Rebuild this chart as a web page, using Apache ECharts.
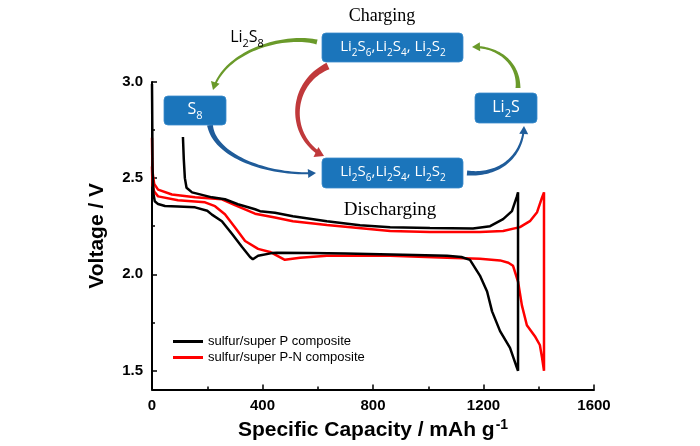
<!DOCTYPE html>
<html><head><meta charset="utf-8">
<script src="https://cdn.jsdelivr.net/npm/echarts@6/dist/echarts.min.js"></script>
<style>html,body{margin:0;padding:0;background:#fff}#c{width:700px;height:446px}</style>
</head><body><div id="c"></div>
<script>
// ---------------- data ----------------
const seriesNames = ['sulfur/super P composite', 'sulfur/super P-N composite'];

// sulfur/super P : discharge then charge (charge listed from its high-capacity end back)
const blackDisX = [0, 0.5, 2, 5, 10, 22, 47, 94, 156, 200, 217, 253, 290, 326, 355, 365, 384, 434, 452, 572, 700, 825, 950, 1068, 1120, 1151, 1187, 1213, 1231, 1260, 1296, 1321, 1325];
const blackDisY = [2.99, 2.90, 2.55, 2.42, 2.38, 2.365, 2.355, 2.352, 2.348, 2.33, 2.31, 2.276, 2.209, 2.142, 2.09, 2.078, 2.096, 2.11, 2.112, 2.111, 2.108, 2.104, 2.10, 2.096, 2.09, 2.075, 1.993, 1.91, 1.807, 1.704, 1.617, 1.513, 1.498];
const blackChgX = [1325, 1321, 1303, 1271, 1224, 1162, 1006, 862, 753, 633, 510, 445, 391, 373, 311, 264, 217, 145, 125, 119, 115, 112];
const blackChgY = [2.426, 2.405, 2.328, 2.287, 2.25, 2.238, 2.24, 2.245, 2.255, 2.276, 2.302, 2.32, 2.328, 2.338, 2.364, 2.39, 2.40, 2.426, 2.45, 2.5, 2.6, 2.714];

// sulfur/super P-N
const redDisX = [0, 1, 3, 8, 22, 94, 192, 228, 264, 300, 337, 384, 427, 481, 536, 633, 862, 1068, 1187, 1260, 1290, 1307, 1325, 1339, 1357, 1386, 1404, 1412, 1419];
const redDisY = [2.56, 2.50, 2.46, 2.43, 2.405, 2.385, 2.374, 2.354, 2.312, 2.245, 2.173, 2.132, 2.116, 2.075, 2.086, 2.096, 2.096, 2.086, 2.08, 2.072, 2.06, 2.044, 1.962, 1.838, 1.735, 1.678, 1.632, 1.565, 1.498];
const redChgX = [1419, 1412, 1394, 1368, 1332, 1271, 1187, 1006, 862, 633, 510, 445, 373, 300, 253, 156, 72, 22, 8, 3, 1, 0];
const redChgY = [2.426, 2.40, 2.323, 2.276, 2.245, 2.225, 2.22, 2.22, 2.225, 2.256, 2.276, 2.295, 2.315, 2.36, 2.39, 2.40, 2.415, 2.44, 2.47, 2.52, 2.6, 2.71];

const xTicks = [0, 400, 800, 1200, 1600];
const yTicks = [1.5, 2.0, 2.5, 3.0];
const yMinorTicks = [1.75, 2.25, 2.75];

function pairs(xs, ys) { return xs.map((x, i) => [x, ys[i]]); }
const blackData = pairs(blackDisX, blackDisY).concat(pairs(blackChgX, blackChgY));
const redData = pairs(redDisX, redDisY).concat(pairs(redChgX, redChgY));

// ---------------- diagram helpers ----------------
function bez(P, t) {
  const u = 1 - t;
  return [u*u*u*P[0][0] + 3*u*u*t*P[1][0] + 3*u*t*t*P[2][0] + t*t*t*P[3][0],
          u*u*u*P[0][1] + 3*u*u*t*P[1][1] + 3*u*t*t*P[2][1] + t*t*t*P[3][1]];
}
function arrow(P, w0, w1, color, headLen, headW) {
  const tip = P[3];
  let dx = P[3][0] - P[2][0], dy = P[3][1] - P[2][1];
  let L = Math.hypot(dx, dy); dx /= L; dy /= L;
  const base = [tip[0] - dx*headLen, tip[1] - dy*headLen];
  let tb = 1;
  for (let t = 1; t >= 0; t -= 0.005) {
    const p = bez(P, t);
    if (Math.hypot(p[0]-tip[0], p[1]-tip[1]) >= headLen*0.9) { tb = t; break; }
  }
  const N = 40, left = [], right = [];
  for (let i = 0; i <= N; i++) {
    const t = tb * i / N;
    const p = bez(P, t);
    const q = bez(P, Math.min(1, t + 0.01));
    const r = bez(P, Math.max(0, t - 0.01));
    let tx = q[0]-r[0], ty = q[1]-r[1]; const tl = Math.hypot(tx, ty) || 1; tx /= tl; ty /= tl;
    const w = (w0 + (w1 - w0) * Math.pow(i / N, 0.6)) / 2;
    left.push([p[0] - ty*w, p[1] + tx*w]);
    right.push([p[0] + ty*w, p[1] - tx*w]);
  }
  const shaft = left.concat(right.reverse());
  const head = [tip, [base[0] - dy*headW/2, base[1] + dx*headW/2], [base[0] + dy*headW/2, base[1] - dx*headW/2]];
  return [
    {type: 'polygon', z: 100, shape: {points: shaft}, style: {fill: color}},
    {type: 'polygon', z: 100, shape: {points: head}, style: {fill: color}}
  ];
}
const BOX = '#1b75bb';
function box(x, y, w, h) {
  return {type: 'rect', z: 100, shape: {x: x, y: y, width: w, height: h, r: 4}, style: {fill: BOX, stroke: '#3a8ccc', lineWidth: 0.8}};
}
const sansF = 'Open Sans, Liberation Sans, sans-serif';
function rtext(x, y, text, color, size) {
  return {type: 'text', z: 101, x: x, y: y, style: {
    text: text, align: 'center', verticalAlign: 'middle', fill: color,
    rich: {
      n: {fontSize: size, fill: color, fontFamily: sansF, lineHeight: size + 8},
      s: {fontSize: Math.round(size * 0.68), fill: color, fontFamily: sansF, verticalAlign: 'bottom'}
    }
  }};
}
const polyText = '{n|Li}{s|2}{n|S}{s|6}{n|,Li}{s|2}{n|S}{s|4}{n|, Li}{s|2}{n|S}{s|2}';

const graphics = [].concat(
  arrow([[317, 42], [285, 34], [225, 50], [213, 90]], 5, 2, '#6a9a2a', 8, 9),
  arrow([[518, 88], [519, 62], [497, 46], [472, 47]], 5, 2, '#6a9a2a', 8, 9),
  arrow([[328, 66], [288, 84], [288, 138], [324, 156]], 7, 3.5, '#c0393b', 9, 11),
  arrow([[210, 125], [214, 156], [268, 176], [316, 173]], 6, 2, '#1f5c9a', 8, 9),
  arrow([[467, 173], [500, 176], [523, 156], [524, 126]], 5, 2, '#1f5c9a', 8, 9),
  [
    box(322, 33, 141, 29),
    box(164, 96, 62, 29),
    box(475, 93, 62, 30),
    box(322, 158, 141, 30),
    rtext(393, 47, polyText, '#ffffff', 15),
    rtext(393, 172, polyText, '#ffffff', 15),
    rtext(195, 109, '{n|S}{s|8}', '#ffffff', 16),
    rtext(506, 107, '{n|Li}{s|2}{n|S}', '#ffffff', 16),
    rtext(247, 37, '{n|Li}{s|2}{n|S}{s|8}', '#000000', 16),
    {type: 'text', z: 101, x: 382, y: 16, style: {text: 'Charging', align: 'center', verticalAlign: 'middle', fill: '#000', fontSize: 18, fontFamily: 'Liberation Serif, serif'}},
    {type: 'text', z: 101, x: 390, y: 210, style: {text: 'Discharging', align: 'center', verticalAlign: 'middle', fill: '#000', fontSize: 19, fontFamily: 'Liberation Serif, serif'}}
  ]
);

// ---------------- chart ----------------
const chart = echarts.init(document.getElementById('c'));
const axisFont = 'Liberation Sans, Arial, sans-serif';
chart.setOption({
  animation: false,
  backgroundColor: '#fff',
  grid: {left: 152, right: 106, top: 82, bottom: 54},
  legend: {
    orient: 'vertical', left: 168, top: 330, itemWidth: 30, itemHeight: 3, itemGap: 3,
    icon: 'rect',
    textStyle: {fontSize: 13, color: '#000', fontFamily: axisFont, lineHeight: 13},
    data: seriesNames
  },
  xAxis: {
    type: 'value', min: xTicks[0], max: xTicks[xTicks.length - 1], interval: 400,
    axisLine: {lineStyle: {color: '#000', width: 2}},
    axisTick: {inside: true, length: 5, lineStyle: {color: '#000', width: 1.5}},
    minorTick: {show: true, splitNumber: 2, length: 3, lineStyle: {color: '#000', width: 1.5}},
    splitLine: {show: false},
    axisLabel: {fontSize: 15, fontWeight: 'bold', color: '#000', fontFamily: axisFont, margin: 9,
      formatter: v => String(v)},
    name: '{a|Specific Capacity / mAh g}{b|-1}',
    nameLocation: 'middle', nameGap: 21,
    nameTextStyle: {
      rich: {
        a: {fontSize: 21, fontWeight: 'bold', color: '#000', fontFamily: axisFont, lineHeight: 26},
        b: {fontSize: 14, fontWeight: 'bold', color: '#000', fontFamily: axisFont, verticalAlign: 'top', padding: [1, 0, 0, 1]}
      }
    }
  },
  yAxis: [{
    type: 'value', min: 1.4, max: 3.0,
    axisLine: {show: true, lineStyle: {color: '#000', width: 2}},
    axisTick: {show: true, inside: true, length: 5, customValues: yTicks, lineStyle: {color: '#000', width: 1.5}},
    axisLabel: {customValues: yTicks, fontSize: 15, fontWeight: 'bold', color: '#000', fontFamily: axisFont, margin: 9,
      formatter: v => v.toFixed(1)},
    splitLine: {show: false},
    name: 'Voltage / V', nameLocation: 'middle', nameGap: 44, nameRotate: 90,
    nameTextStyle: {fontSize: 21, fontWeight: 'bold', color: '#000', fontFamily: axisFont}
  }, {
    type: 'value', min: 1.4, max: 3.0, position: 'left',
    axisLine: {show: false},
    axisTick: {show: true, inside: true, length: 3, customValues: yMinorTicks, lineStyle: {color: '#000', width: 1.5}},
    axisLabel: {show: false},
    splitLine: {show: false}
  }],
  series: [{
    name: seriesNames[0], type: 'line', data: blackData, symbol: 'none', showSymbol: false,
    lineStyle: {color: '#000', width: 2.5}, itemStyle: {color: '#000'}, z: 3
  }, {
    name: seriesNames[1], type: 'line', data: redData, symbol: 'none', showSymbol: false,
    lineStyle: {color: '#ff0000', width: 2.5}, itemStyle: {color: '#ff0000'}, z: 2
  }],
  graphic: graphics
});
</script>
</body></html>
